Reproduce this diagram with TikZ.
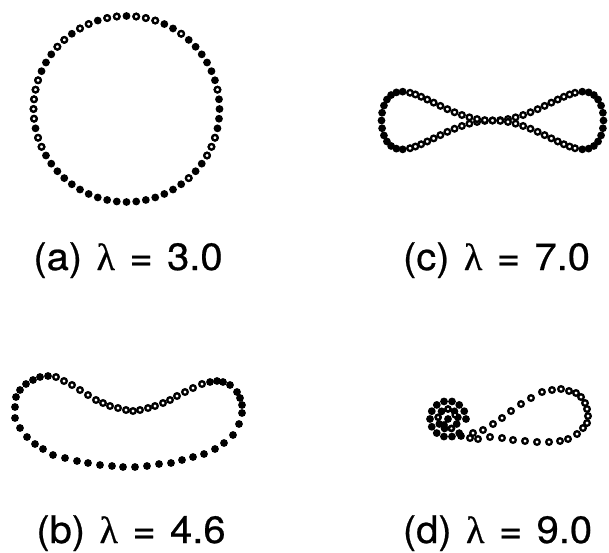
\documentclass[tikz,border=0pt]{standalone}
\usepackage{fontspec}
\setmainfont{TeX Gyre Heros}[FakeStretch=1.05, WordSpace=1.3, FakeBold=0.6]
\newfontfamily\greekfont{Liberation Serif}[FakeBold=0.6]
\newcommand{\lam}{{\greekfont λ}}

\begin{document}
\begin{tikzpicture}[
  x=1pt, y=-1pt,
  ring/.style={draw=black, fill=white, line width=2.3pt},
  caption/.style={font=\fontsize{38}{44}\selectfont, anchor=base, inner sep=0pt}
]
  \useasboundingbox (0,0) rectangle (609,552);

  % (a) circle
  \foreach \a in {0,6,...,354}
    \fill ({126.5+93*cos(\a)},{109-93*sin(\a)}) circle (3.9pt);
  \foreach \a in {12,54,72,78,84,96,102,114,120,132,138,162,168,174,180,186,198,204,312,330,336,342}
    \draw[ring] ({126.5+93*cos(\a)},{109-93*sin(\a)}) circle (2.8pt);

  % (b) bent loop
  \foreach \x/\y in {210/382,217/381,223/382,230/385,237/392,240/398,242/405,242/413,239/424,233/435,224/443,215/449,
      204/454,193/457,182/460,171/463,159/464,147/466,135/467,123/467,112/466,100/465,88/463,77/461,65/458,
      53/455,43/449,35/444,27/437,20/428,15/418,15/407,16/397,20/390,26/384,33/380,40/377,48/376}
    \fill (\x,\y) circle (3.9pt);
  \foreach \x/\y in {56/377,64/381,72/385,80/390,88/395,96/400,103/403,110/406,118/408,126/410,133/411,
      140/410,148/408,155/406,163/403,170/400,177/396,185/392,193/388,202/384}
    \draw[ring] (\x,\y) circle (2.8pt);

  % (c) figure eight
  \foreach \t in {-36,-30,...,36,144,150,...,216}
    \fill ({492.5+111*cos(\t)},{120.5-75*sin(\t)*cos(\t)*abs(cos(\t))}) circle (3.9pt);
  \foreach \t in {42,46,...,138,222,226,...,318}
    \draw[ring] ({492.5+111*cos(\t)},{120.5-75*sin(\t)*cos(\t)*abs(cos(\t))}) circle (2.8pt);

  % (d) knot and open loop
  \foreach \x/\y in {470/438,478/439,490/437,502/438,513/440,525/441,537/442,549/442,560/441,568/439,577/434,
      583/428,587/423,588/416,587/409,585/403,581/397,576/393,569/391,561/389,552/390,542/392,531/398,
      521/404,511/411,502/418,493/424,483/430,473/433}
    \draw[ring] (\x,\y) circle (2.8pt);
  \foreach \a in {0,25.7,...,334}
    \fill ({448+18*cos(\a)},{419-18*sin(\a)}) circle (3.9pt);
  \foreach \a in {10,50,...,330}
    \fill ({448+10*cos(\a)},{419-10*sin(\a)}) circle (3.9pt);
  \fill (448,419) circle (3.9pt);
  \fill (444,425) circle (3.9pt);
  \fill (461,436) circle (3.9pt);
  \foreach \a in {90,170,290}
    \draw[ring] ({448+10*cos(\a)},{419-10*sin(\a)}) circle (2.4pt);
  \draw[ring] (455,415) circle (2.4pt);

  % captions
  \node[caption] (capa) at (128,270) {(a) \lam{} = 3.0};
  \node[caption] (capc) at (496.5,270) {(c) \lam{} = 7.0};
  \node[caption] (capb) at (131,543) {(b) \lam{} = 4.6};
  \node[caption] (capd) at (497.5,543) {(d) \lam{} = 9.0};
\end{tikzpicture}
\end{document}
